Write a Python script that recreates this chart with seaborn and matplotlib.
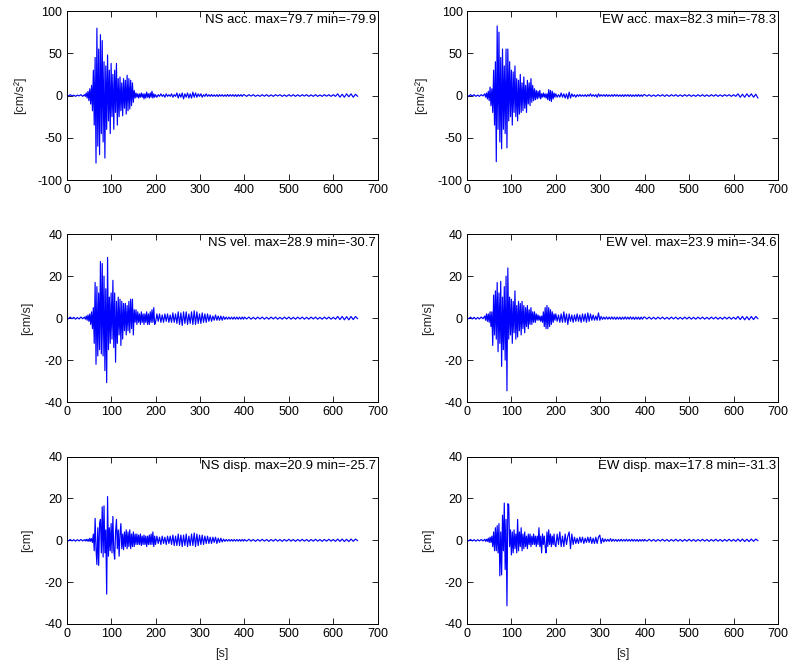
import numpy as np
import matplotlib
matplotlib.use("Agg")
import matplotlib.pyplot as plt
import seaborn as sns

# ---------------- data ----------------
components = ["NS", "EW"]
quantities = ["acc.", "vel.", "disp."]
units = ["[cm/s²]", "[cm/s]", "[cm]"]
ylims = [(-100, 100), (-40, 40), (-40, 40)]
yticks = [[-100, -50, 0, 50, 100], [-40, -20, 0, 20, 40], [-40, -20, 0, 20, 40]]
xticks = [0, 100, 200, 300, 400, 500, 600, 700]
maxima = {"NS": [79.7, 28.9, 20.9], "EW": [82.3, 23.9, 17.8]}
minima = {"NS": [-79.9, -30.7, -25.7], "EW": [-78.3, -34.6, -31.3]}

# segment sampling: pre (0-36 s, 4 s), main (40-198 s, 2 s), mid (200-398 s, 3 s), late (400-655 s, 5 s)
seg_start = [0, 40, 200, 400]
seg_step = [4, 2, 3, 5]

ns_acc_pre = [0.5, -0.5, 1, -0.5, 0.5, -1, 0.5, -0.5, 1, -1]
ns_acc_main = [1, -1, 3, -3, 5, -6, 8, -10, 12, -18, 30, -35, 45, -79.9, 79.7, -60, 55, -70, 72, -45,
               65, -55, 40, -74, 35, -40, 48, -30, 30, -45, 38, -25, 25, -40, 30, -20, 38, -35, 20, -25,
               22, -18, 15, -24, 20, -15, 18, -22, 24, -18, 20, -16, 18, -12, 15, -8, 6, -3, 3, -2,
               2, -3, 2, -2, 3, -2, 2, -4, 2, -3, 4, -2, 2, -3, 3, -2, 5, -3, 2, -2]
ns_acc_mid = [1, -2, 1, -1, 2, -1, 1, -2, 2, -1, 1, -1, 2, -2, 1, -1, 3, -3, 2, -2,
              3, -4, 2, -2, 3, -3, 2, -3, 4, -2, 3, -2, 2, -1, 2, -2, 1, -1, 2, -1,
              1, -1, 1.2, -1, 0.8, -1, 1, -1.2, 1, -0.8, 1, -1, 0.8, -1, 1.2, -1, 1, -0.8, 1, -1,
              1, -1.2, 1, -0.8, 1, -1, 1]
ns_acc_late = [0.8, -1, 1, -0.7, 1, -1, 0.6, -1, 1, -0.8, 1, -1, 0.8, -1, 1, -0.6, 1, -1, 0.7, -1,
               1, -0.8, 1, -1, 0.9, -1, 1, -0.7, 1, -1, 0.8, -1, 1, -1, 0.7, -1, 1, -0.8, 1, -1,
               1, -1, 2, -2, 1.5, -2, 2, -1.5, 2, -2, 1.5, -1]

ns_vel_pre = [0.3, -0.3, 0.5, -0.3, 0.4, -0.5, 0.3, -0.4, 0.5, -0.3]
ns_vel_main = [0.5, -0.5, 1, -1, 1.5, -1.5, 2, -3, 3, -5, 5, -12, 17, -22, 15, -18, 12, -15, 27, -17,
               26, -18, 20, -25, 14, -30.7, 28.9, -15, 10, -12, 12, -10, 18, -14, 12, -21, 8, -12, 10, -8,
               9, -13, 8, -10, 7, -6, 7, -8, 6, -6, 8, -7, 9, -5, 9, -8, 4, -2, 4, -3,
               3, -2, 2, -3, 3, -2, 2, -3, 2, -2, 3, -3, 2, -3, 3, -2, 4, -2, 5, -3]
ns_vel_mid = [-2, 2, -1.5, 2, -2, 1.5, -2, 2, -1.5, 2, -2, 1.5, -2, 2.5, -2, 2, -2.5, 3, -3, 2.5,
              -3.5, 3, -2.5, 3, -3, 2, -2.5, 3, -3, 3.5, -3, 3, -2.5, 2, -2.5, 2.5, -2, 2, -2, 2,
              -1.5, 1.5, -1.5, 1, -1, 1.5, -1, 1, -1, 1, -1, 0.8, -0.6, 0.5, -0.5, 0.5, -0.5, 0.5, -0.5, 0.5,
              -0.5, 0.5, -0.5, 0.5, -0.5, 0.5, -0.5]
ns_vel_late = [0.5, -0.4, 0.5, -0.5, 0.4, -0.5, 0.5, -0.4, 0.5, -0.5, 0.4, -0.5, 0.5, -0.4, 0.5, -0.5, 0.4, -0.5, 0.5, -0.4,
               0.5, -0.5, 0.4, -0.5, 0.5, -0.4, 0.5, -0.5, 0.4, -0.5, 0.5, -0.4, 0.5, -0.5, 0.4, -0.5, 0.5, -0.4, 0.5, -0.5,
               0.4, -0.5, 0.8, -0.7, 0.8, -0.8, 0.7, -0.8, 0.8, -0.7, 0.8, -0.3]

ns_disp_pre = [0.3, -0.3, 0.4, -0.3, 0.3, -0.4, 0.3, -0.3, 0.4, -0.3]
ns_disp_main = [0.3, -0.3, 0.5, -0.4, 0.5, -0.5, 1, -0.5, 0.8, -1, 3, -5, 10.5, -4, -11.6, 6, -12, 8, 10, -6,
                16, -8, 16.5, -6, 5, -25.7, 20.9, -7.6, 6, -5, 8, -6, 11.4, -5, -9, 4, 10, -4, 5, -7.6,
                3, 8, -4, 3, -4.5, 4, -3, 5, -4, 4, -3, 5, -4, 3, -3, 4, -3, 3, -2, 3,
                -2, 2.5, -2, 3, -2.5, 2, -2, 2.5, -2, 2, -3, 2, -2, 2.5, -2, 3, -2, 4, -3, 2]
ns_disp_mid = [-2, 2, -1.5, 1.5, -2, 2, -1.5, 1.5, -2, 2, -1.5, 2, -2, 2.5, -2.5, 2, -2.5, 3, -2.5, 2.5,
               -3, 2.5, -2.5, 3, -3, 2, -2.5, 3, -2.5, 3.5, -3, 3, -2.5, 2.5, -2, 2.5, -2, 2, -1.5, 2,
               -1.5, 1.5, -1.5, 1.5, -1, 1.5, -1.5, 1, -1, 1, -0.8, 0.6, -0.5, 0.4, -0.4, 0.4, -0.4, 0.4, -0.4, 0.4,
               -0.4, 0.4, -0.4, 0.4, -0.4, 0.4, -0.4]
ns_disp_late = [0.4, -0.4, 0.5, -0.4, 0.4, -0.5, 0.4, -0.4, 0.5, -0.4, 0.4, -0.5, 0.4, -0.4, 0.5, -0.4, 0.4, -0.5, 0.4, -0.4,
                0.5, -0.4, 0.4, -0.5, 0.4, -0.4, 0.5, -0.4, 0.4, -0.5, 0.4, -0.4, 0.5, -0.4, 0.4, -0.5, 0.4, -0.4, 0.5, -0.4,
                0.4, -0.5, 0.6, -0.5, 0.6, -0.6, 0.5, -0.6, 0.6, -0.5, 0.6, -0.2]

ew_acc_pre = [0.5, -1, 1, -0.5, 1, -1, 0.5, -1, 1, -0.5]
ew_acc_main = [2, -2, 3, -4, 5, -6, 10, -12, 8, -20, 30, -35, 40, -78.3, 82.3, -40, 75, -55, 45, -63,
               55, -40, 35, -45, 55, -62, 55, -30, 40, -25, 30, -35, 28, -20, 35, -25, 20, -30, 18, -22,
               25, -20, 15, -18, 22, -15, 12, -20, 18, -10, 15, -12, 20, -8, 12, -6, 8, -5, 6, -4,
               5, -3, 6, -4, 2, -2, 3, -2, 2, -3, 2, -5, 7, -6, 6, -7, 5, -4, 3, -2]
ew_acc_mid = [2, -2, 1, -2, 3, -2, 2, -3, 2, -4, 4, -3, 2, -1.2, 1, -2, 1, -1, 1.2, -1,
              0.8, -1, 1, -1.2, 1, -0.8, 2, -1, 1, -1, 1, -2, 2, -1, 1, -0.8, 1, -1, 1.2, -1,
              0.8, -1, 1, -1, 1.2, -0.8, 1, -1, 0.8, -1, 1, -1.2, 1, -0.8, 1, -1, 1, -1.2, 0.8, -1,
              1, -1, 1.2, -1, 0.8, -1, 1]
ew_acc_late = [1, -0.8, 1, -1, 0.7, -1, 1, -0.8, 1, -1, 0.9, -1, 1, -0.7, 1, -1, 0.8, -1, 1, -0.8,
               1, -1, 0.7, -1, 1, -0.9, 1, -1, 0.8, -1, 1, -0.8, 1, -1, 0.8, -1, 1, -0.7, 1, -1,
               1, -1, 2, -2, 1.5, -2, 2, -1.5, 2, -2, 1.5, -3]

ew_vel_pre = [0.3, -0.3, 0.5, -0.4, 0.4, -0.5, 0.3, -0.4, 0.5, -0.3]
ew_vel_main = [1, -1, 2, -1.5, 2, -2, 3, -4, 3, -13, 11, -8, 13, -10, 17, -16, 12, -12, 17.5, -23,
               10, -15, 15, -20, 20, -34.6, 23.9, -10, 10, -8, 9, -12, 8, -7, 13, -10, 6, -9, 8, -6,
               7, -8, 8, -5, 6, -7, 5, -4, 6, -5, 4, -3, 5, -3, 3, -2, 3, -2, 2, -1,
               1.5, -1, 1, -1.5, 1, -2, 3, -4, 5, -5, 6, -5, 5, -4, 4, -3, 3, -2, 2, -1]
ew_vel_mid = [2, -1.5, 1.5, -2, 2, -2, 3, -2, 2, -3, 2, -1.5, 1.5, -2, 1.5, -1.5, 2, -1.5, 1.5, -2,
              2, -1.5, 2, -2, 2.5, -1.5, 2, -1, 1.5, -1, 1, -1, 2.5, -1, 0.8, -0.6, 0.5, -0.5, 0.6, -0.5,
              0.5, -0.5, 0.6, -0.5, 0.5, -0.6, 0.5, -0.5, 0.5, -0.6, 0.5, -0.5, 0.6, -0.5, 0.5, -0.5, 0.6, -0.5, 0.5, -0.6,
              0.5, -0.5, 0.5, -0.6, 0.5, -0.5, 0.5]
ew_vel_late = [0.5, -0.4, 0.5, -0.5, 0.4, -0.5, 0.5, -0.4, 0.5, -0.5, 0.4, -0.5, 0.5, -0.4, 0.5, -0.5, 0.4, -0.5, 0.5, -0.4,
               0.5, -0.5, 0.4, -0.5, 0.5, -0.4, 0.5, -0.5, 0.4, -0.5, 0.5, -0.4, 0.5, -0.5, 0.4, -0.5, 0.5, -0.4, 0.5, -0.5,
               0.4, -0.5, 0.8, -0.7, 0.8, -0.8, 0.7, -0.8, 0.8, -0.7, 0.8, -0.3]

ew_disp_pre = [0.3, -0.3, 0.4, -0.3, 0.3, -0.4, 0.3, -0.3, 0.4, -0.3]
ew_disp_main = [0.5, -0.5, 0.5, -0.5, 1, -1, 1.5, -1, 2, -3, 4, -5, 6, -5, 7, -6, 8, -17, 4, -16.5,
                12, -5, 17.8, -14, 10, -31.3, 17.5, 17, -3, 5, -7, 4, -6, 5, -4, 3, -6, 10, -5, 4,
                -3, 6, -5, 3, -4, 4, -3, 2, -4, 3, -2, 3, -3, 2, -2, 3, -2, 2, -3, 2,
                -2, 6, -3, 2, -6, 3, -2, 2, -3, -6, 4, -3, 5, -2, 3, -3, 2, -2, 3, -2]
ew_disp_mid = [-3, 3, -2, 4, -3, 2, -3, 3, -2, 2, 4, -4, 3, -2, 1.5, -1.5, 1, -1.5, 1.5, -1,
               1.5, -1.5, 1, -1, 1.5, -1, 1.5, -1.5, 1, -1.5, 1.5, -1.5, 1.5, 2.5, -1.5, 1, -0.8, 0.6, -0.5, 0.5,
               -0.5, 0.8, -0.5, 0.5, -0.4, 0.4, -0.5, 0.4, -0.4, 0.5, -0.4, 0.4, -0.4, 0.5, -0.4, 0.4, -0.4, 0.5, -0.4, 0.4,
               -0.4, 0.4, -0.5, 0.4, -0.4, 0.4, -0.4]
ew_disp_late = [0.4, -0.4, 0.5, -0.4, 0.4, -0.5, 0.4, -0.4, 0.5, -0.4, 0.4, -0.5, 0.4, -0.4, 0.5, -0.4, 0.4, -0.5, 0.4, -0.4,
                0.5, -0.4, 0.4, -0.5, 0.4, -0.4, 0.5, -0.4, 0.4, -0.5, 0.4, -0.4, 0.5, -0.4, 0.4, -0.5, 0.4, -0.4, 0.5, -0.4,
                0.4, -0.5, 0.6, -0.5, 0.6, -0.6, 0.5, -0.6, 0.6, -0.5, 0.6, -0.2]

series = {
    ("NS", 0): [ns_acc_pre, ns_acc_main, ns_acc_mid, ns_acc_late],
    ("NS", 1): [ns_vel_pre, ns_vel_main, ns_vel_mid, ns_vel_late],
    ("NS", 2): [ns_disp_pre, ns_disp_main, ns_disp_mid, ns_disp_late],
    ("EW", 0): [ew_acc_pre, ew_acc_main, ew_acc_mid, ew_acc_late],
    ("EW", 1): [ew_vel_pre, ew_vel_main, ew_vel_mid, ew_vel_late],
    ("EW", 2): [ew_disp_pre, ew_disp_main, ew_disp_mid, ew_disp_late],
}


def build(segments):
    t, v = [], []
    for s0, ds, seg in zip(seg_start, seg_step, segments):
        t.append(s0 + ds * np.arange(len(seg)))
        v.append(np.asarray(seg, dtype=float))
    return np.concatenate(t), np.concatenate(v)


# ---------------- figure ----------------
sns.set_theme(style="ticks")
plt.rcParams["font.family"] = ["Liberation Sans", "DejaVu Sans"]
plt.rcParams["axes.unicode_minus"] = False

fig = plt.figure(figsize=(7.92, 6.68), dpi=100)
lefts = [0.0842, 0.5896]
width = 0.3927
bottoms = [0.7305, 0.398, 0.0659]
heights = [0.253, 0.2515, 0.2505]

for ci, comp in enumerate(components):
    for qi, q in enumerate(quantities):
        ax = fig.add_axes([lefts[ci], bottoms[qi], width, heights[qi]])
        t, v = build(series[(comp, qi)])
        sns.lineplot(x=t, y=v, ax=ax, color=(0, 0, 1), linewidth=0.85,
                     estimator=None, sort=False)
        ax.set_xlim(0, 700)
        ax.set_ylim(*ylims[qi])
        ax.set_xticks(xticks)
        ax.set_yticks(yticks[qi])
        ax.tick_params(direction="in", top=True, right=True, length=4,
                       width=0.6, labelsize=9, colors="black", pad=3)
        for sp in ax.spines.values():
            sp.set_linewidth(0.7)
            sp.set_color("black")
        ax.set_ylabel(units[qi], fontsize=9, labelpad=8)
        if qi == 2:
            ax.set_xlabel("[s]", fontsize=9, labelpad=6)
        else:
            ax.set_xlabel("")
        txt = f"{comp} {q} max={maxima[comp][qi]} min={minima[comp][qi]}"
        ax.text(0.995, 0.982, txt, transform=ax.transAxes, ha="right", va="top",
                fontsize=9.5, color="black", zorder=10,
                bbox=dict(facecolor="white", edgecolor="none", pad=0.3))

fig.savefig("out.png", dpi=100, facecolor="white")
